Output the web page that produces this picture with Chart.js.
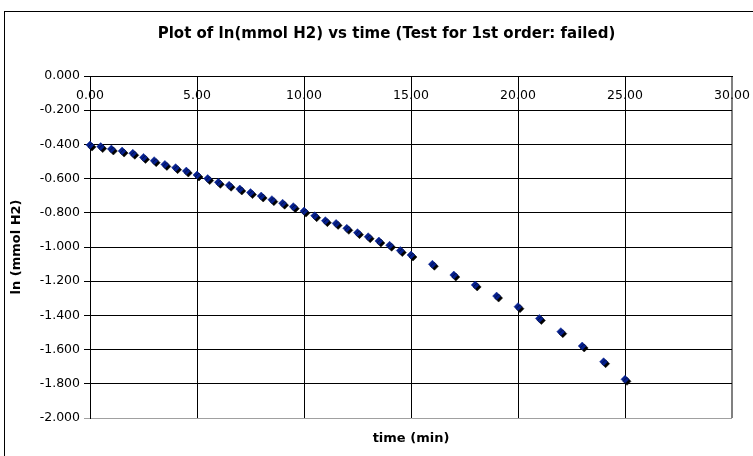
<!DOCTYPE html>
<html><head><meta charset="utf-8">
<script src="https://cdn.jsdelivr.net/npm/chart.js@4.4.0/dist/chart.umd.min.js"></script>
<style>html,body{margin:0;padding:0;background:#fff;}canvas{display:block;}</style>
</head><body>
<canvas id="c" width="753" height="456"></canvas>
<script>
const chartTitle = 'Plot of ln(mmol H2) vs time (Test for 1st order: failed)';
const xAxisTitle = 'time (min)';
const yAxisTitle = 'ln (mmol H2)';

const timeMin = [0, 0.5, 1, 1.5, 2, 2.5, 3, 3.5, 4, 4.5, 5, 5.5, 6, 6.5, 7, 7.5, 8, 8.5, 9, 9.5,
  10, 10.5, 11, 11.5, 12, 12.5, 13, 13.5, 14, 14.5, 15, 16, 17, 18, 19, 20, 21, 22, 23, 24, 25];
const lnH2 = [-0.404, -0.413, -0.427, -0.439, -0.452, -0.476, -0.495, -0.517, -0.536, -0.556,
  -0.579, -0.600, -0.622, -0.639, -0.661, -0.682, -0.702, -0.723, -0.744, -0.764,
  -0.790, -0.817, -0.846, -0.862, -0.891, -0.916, -0.940, -0.965, -0.990, -1.021,
  -1.047, -1.101, -1.164, -1.222, -1.287, -1.349, -1.418, -1.495, -1.579, -1.671, -1.774];

const xTicks = [0, 5, 10, 15, 20, 25, 30];
const yTicks = [0, -0.2, -0.4, -0.6, -0.8, -1.0, -1.2, -1.4, -1.6, -1.8, -2.0];

const FONT = 'DejaVu Sans, Verdana, sans-serif';

const framePlugin = {
  id: 'frame',
  beforeDraw(chart) {
    const ctx = chart.ctx;
    ctx.save();
    ctx.fillStyle = '#fff';
    ctx.fillRect(0, 0, chart.width, chart.height);
    ctx.strokeStyle = '#000';
    ctx.lineWidth = 1;
    ctx.strokeRect(4.5, 11.5, 1000, 1000);
    ctx.restore();
  },
  beforeDatasetsDraw(chart) {
    const ctx = chart.ctx;
    ctx.save();
    ctx.shadowColor = '#000';
    ctx.shadowOffsetX = 2;
    ctx.shadowOffsetY = 2;
    ctx.shadowBlur = 0;
  },
  afterDatasetsDraw(chart) {
    chart.ctx.restore();
  }
};

new Chart(document.getElementById('c'), {
  type: 'scatter',
  data: {
    datasets: [{
      data: timeMin.map((t, i) => ({x: t, y: lnH2[i]})),
      showLine: false,
      pointStyle: 'rectRot',
      pointRadius: 4,
      pointHoverRadius: 4,
      backgroundColor: '#06208f',
      borderColor: '#06208f',
      borderWidth: 0.5,
      clip: false
    }]
  },
  options: {
    responsive: false,
    animation: false,
    devicePixelRatio: 1,
    layout: {padding: {left: 20, right: 0, top: 0, bottom: 0}},
    plugins: {
      legend: {display: false},
      tooltip: {enabled: false},
      title: {
        display: true,
        text: chartTitle,
        color: '#000',
        font: {family: FONT, size: 15, weight: 'bold'},
        padding: {top: 25, bottom: 33}
      }
    },
    scales: {
      x: {
        type: 'linear',
        position: {y: 0},
        min: 0, max: 30,
        afterBuildTicks: s => { s.ticks = xTicks.map(v => ({value: v})); },
        afterFit: s => { s.paddingLeft = 0; s.paddingRight = 0; },
        ticks: {
          callback: v => Number(v).toFixed(2),
          color: '#000',
          font: {family: FONT, size: 12.5},
          padding: 12,
          maxRotation: 0,
          autoSkip: false
        },
        grid: {
          drawTicks: false,
          color: c => (c.tick && c.tick.value === 30) ? '#808080' : '#000',
          lineWidth: c => (c.tick && c.tick.value === 30) ? 2 : 1
        },
        border: {display: true, color: '#000', width: 1}
      },
      xT: {
        type: 'linear',
        axis: 'x',
        position: 'bottom',
        min: 0, max: 30,
        ticks: {display: false},
        grid: {display: false},
        border: {display: false},
        title: {
          display: true,
          text: xAxisTitle,
          color: '#000',
          font: {family: FONT, size: 13, weight: 'bold'},
          padding: {top: 0, bottom: 9.2}
        },
        afterFit: s => { s.height = 38; s.paddingLeft = 0; s.paddingRight = 0; }
      },
      y: {
        type: 'linear',
        position: 'left',
        min: -2, max: 0,
        afterBuildTicks: s => { s.ticks = yTicks.map(v => ({value: v})); },
        ticks: {
          callback: v => Number(v).toFixed(3),
          color: '#000',
          font: {family: FONT, size: 12.5},
          padding: 4,
          autoSkip: false
        },
        grid: {
          tickLength: 6,
          color: c => (c.tick && c.tick.value === -2) ? '#a0a0a0' : '#000',
          lineWidth: 1
        },
        border: {display: true, color: '#000', width: 1},
        title: {
          display: true,
          text: yAxisTitle,
          color: '#000',
          font: {family: FONT, size: 13, weight: 'bold'},
          padding: {top: -10.8, bottom: 0}
        },
        afterFit: s => { s.width = 70; }
      },
      yR: {
        type: 'linear',
        axis: 'y',
        position: 'right',
        display: true,
        ticks: {display: false},
        grid: {display: false},
        border: {display: false},
        afterFit: s => { s.width = 21; s.paddingTop = 0; s.paddingBottom = 0; }
      }
    }
  },
  plugins: [framePlugin]
});
</script>
</body></html>
